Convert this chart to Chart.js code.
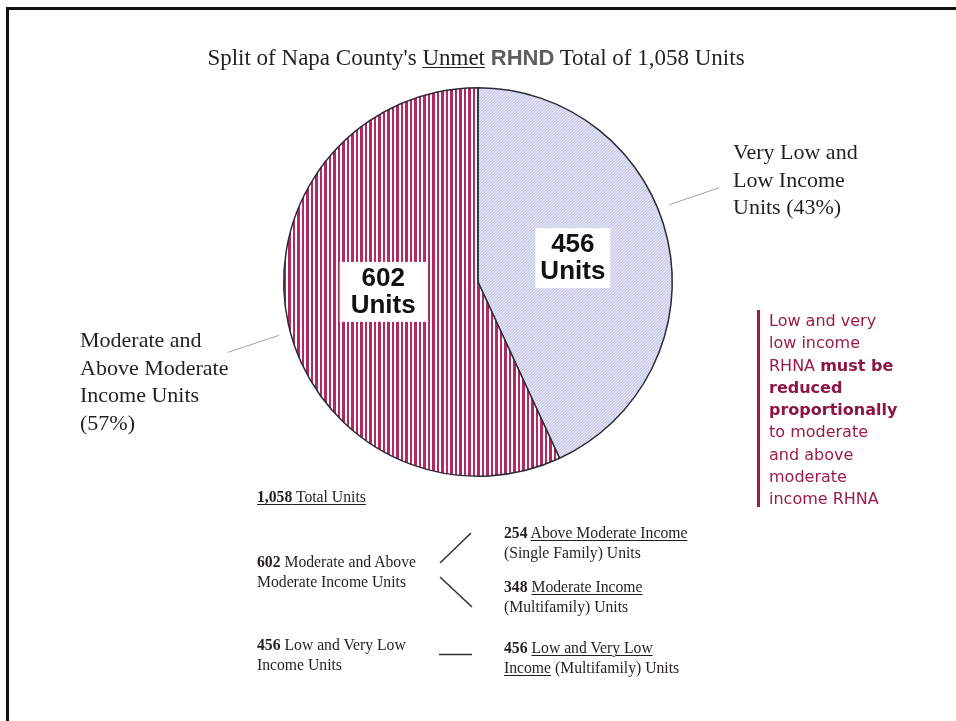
<!DOCTYPE html>
<html lang="en">
<head>
  <meta charset="UTF-8">
  <meta name="viewport" content="width=device-width, initial-scale=1.0">
  <title>Split of Napa County's Unmet RHND</title>
  <script src="https://cdn.jsdelivr.net/npm/chart.js"></script>
  <style>
    body {
      margin: 0;
      width: 956px;
      height: 721px;
      background: #fff;
      position: relative;
      overflow: hidden;
      font-family: "Liberation Serif", "Times New Roman", serif;
      color: #231f20;
    }
    #frame {
      position: absolute;
      left: 6px; top: 7px; right: -10px; bottom: -10px;
      border-top: 3px solid #111;
      border-left: 3px solid #111;
    }
    #chartBox { position: absolute; left: 0; top: 0; width: 956px; height: 721px; }
    .abs { position: absolute; white-space: nowrap; }
    #title { top: 45px; left: 0; width: 952px; text-align: center; font-size: 23px; line-height: 26px; }
    #title .rhnd { font-family: "Liberation Sans", Arial, sans-serif; font-weight: bold; font-size: 22px; color: #5e5e5e; }
    .big { font-size: 22px; line-height: 27.5px; }
    #note {
      left: 757px; top: 310px; height: 197px;
      border-left: 3px solid #a3174f;
      padding-left: 9px;
      font-family: "DejaVu Sans", sans-serif;
      font-size: 16px; line-height: 22.3px;
      color: #9b1b4b;
    }
    #note b { color: #8e1443; }
    .tbl { font-size: 15.7px; line-height: 19.5px; }
    .tbl b { font-weight: bold; }
    u { text-decoration-thickness: 1px; text-underline-offset: 2px; }
    svg { position: absolute; left: 0; top: 0; }
  </style>
</head>
<body>
  <div id="frame"></div>
  <div id="chartBox"><canvas id="pieChart"></canvas></div>

  <div id="title" class="abs">Split of Napa County's <u>Unmet</u> <span class="rhnd">RHND</span> Total of 1,058 Units</div>
  <div id="lblLow" class="abs big" style="left:733px; top:138px;"></div>
  <div id="lblMod" class="abs big" style="left:80px; top:326px;"></div>

  <div id="note" class="abs">Low and very<br>low income<br>RHNA <b>must be<br>reduced<br>proportionally</b><br>to moderate<br>and above<br>moderate<br>income RHNA</div>

  <div id="tblTotal" class="abs tbl" style="left:257px; top:487px;"></div>
  <div id="tblMod" class="abs tbl" style="left:257px; top:552px;"></div>
  <div id="tblLow" class="abs tbl" style="left:257px; top:635px;"></div>
  <div id="tblAbove" class="abs tbl" style="left:504px; top:523px;"></div>
  <div id="tblModInc" class="abs tbl" style="left:504px; top:577px;"></div>
  <div id="tblLowInc" class="abs tbl" style="left:504px; top:638px;"></div>

  <svg width="956" height="721">
    <g stroke="#333" stroke-width="1.6">
      <line x1="440" y1="563" x2="471" y2="533"/>
      <line x1="440" y1="577" x2="472" y2="607"/>
      <line x1="439" y1="654.5" x2="472" y2="654.5"/>
    </g>
  </svg>

  <script>
    // datos del grafico
    const categories = ['Very Low and Low Income Units', 'Moderate and Above Moderate Income Units'];
    const units = [456, 602];
    const percents = [43, 57];
    const total = 1058;
    // desglose de la tabla inferior
    const breakdownLabels = ['Above Moderate Income', 'Moderate Income', 'Low and Very Low Income'];
    const breakdownUnits = [254, 348, 456];

    // textos alrededor del pie
    document.getElementById('lblLow').innerHTML = 'Very Low and<br>Low Income<br>Units (' + percents[0] + '%)';
    document.getElementById('lblMod').innerHTML = 'Moderate and<br>Above Moderate<br>Income Units<br>(' + percents[1] + '%)';

    document.getElementById('tblTotal').innerHTML = '<u><b>' + total.toLocaleString('en-US') + '</b> Total Units</u>';
    document.getElementById('tblMod').innerHTML = '<b>' + units[1] + '</b> Moderate and Above<br>Moderate Income Units';
    document.getElementById('tblLow').innerHTML = '<b>' + units[0] + '</b> Low and Very Low<br>Income Units';
    document.getElementById('tblAbove').innerHTML = '<b>' + breakdownUnits[0] + '</b> <u>' + breakdownLabels[0] + '</u><br>(Single Family) Units';
    document.getElementById('tblModInc').innerHTML = '<b>' + breakdownUnits[1] + '</b> <u>' + breakdownLabels[1] + '</u><br>(Multifamily) Units';
    document.getElementById('tblLowInc').innerHTML = '<b>' + breakdownUnits[2] + '</b> <u>Low and Very Low</u><br><u>Income</u> (Multifamily) Units';

    // tramas de relleno
    function makePattern(size, paint) {
      const c = document.createElement('canvas');
      c.width = size[0]; c.height = size[1];
      const g = c.getContext('2d');
      paint(g);
      return g.createPattern(c, 'repeat');
    }
    const ctx = document.getElementById('pieChart').getContext('2d');
    const lavender = makePattern([3, 3], g => {
      g.fillStyle = '#cdcdec';
      g.fillRect(0, 0, 3, 3);
      g.fillStyle = '#ececf8';
      for (let x = 0; x < 3; x++) {
        const y = (2 - x + 3) % 3;
        g.fillRect(x, y, 1, 1);
      }
    });
    // rayas verticales: MMMWWMMWW
    const maroon = makePattern([9, 1], g => {
      g.fillStyle = '#ffffff';
      g.fillRect(0, 0, 9, 1);
      g.fillStyle = '#b22a5f';
      g.fillRect(0, 0, 3, 1);
      g.fillRect(5, 0, 2, 1);
    });

    const sliceLabels = {
      id: 'sliceLabels',
      afterDatasetsDraw(chart, args, opts) {
        const c = chart.ctx;
        const arcs = chart.getDatasetMeta(0).data;
        c.save();
        arcs.forEach((arc, i) => {
          const p = arc.getProps(['x', 'y', 'startAngle', 'endAngle', 'outerRadius'], true);
          const mid = (p.startAngle + p.endAngle) / 2;
          const lx = p.x + Math.cos(mid) * p.outerRadius * 0.5;
          const ly = p.y + Math.sin(mid) * p.outerRadius * 0.5 + opts.shiftY[i];
          c.font = 'bold 26px "Liberation Sans", Arial, sans-serif';
          const lines = [String(chart.data.datasets[0].data[i]), 'Units'];
          const w = Math.max(...lines.map(t => c.measureText(t).width)) + 2 * opts.padX[i];
          const h = 60;
          c.fillStyle = '#fff';
          c.fillRect(lx - w / 2, ly - h / 2, w, h);
          c.fillStyle = '#111';
          c.textAlign = 'center';
          c.textBaseline = 'middle';
          c.fillText(lines[0], lx, ly - 13);
          c.fillText(lines[1], lx, ly + 14);

          // lineas guia hacia las etiquetas externas
          const ld = opts.leaders[i];
          const a = ld.angle * Math.PI / 180;
          const sx = p.x + Math.cos(a) * (p.outerRadius + 12);
          const sy = p.y + Math.sin(a) * (p.outerRadius + 12);
          c.strokeStyle = '#a0a0a0';
          c.lineWidth = 1;
          c.beginPath();
          c.moveTo(sx, sy);
          c.lineTo(sx + ld.dx, sy + ld.dy);
          c.stroke();
        });
        c.restore();
      }
    };

    new Chart(ctx, {
      type: 'pie',
      data: {
        labels: categories,
        datasets: [{
          data: units,
          backgroundColor: [lavender, maroon],
          borderColor: '#2b2b38',
          borderWidth: 1.5
        }]
      },
      options: {
        responsive: true,
        maintainAspectRatio: false,
        animation: false,
        events: [],
        layout: { padding: { left: 283, right: 283, top: 87, bottom: 244 } },
        plugins: {
          legend: { display: false },
          tooltip: { enabled: false },
          sliceLabels: {
            shiftY: [-3, -11],
            padX: [5, 11],
            leaders: [{ angle: -22, dx: 50, dy: -17 }, { angle: 165, dx: -51, dy: 17 }]
          }
        }
      },
      plugins: [sliceLabels]
    });
  </script>
</body>
</html>
